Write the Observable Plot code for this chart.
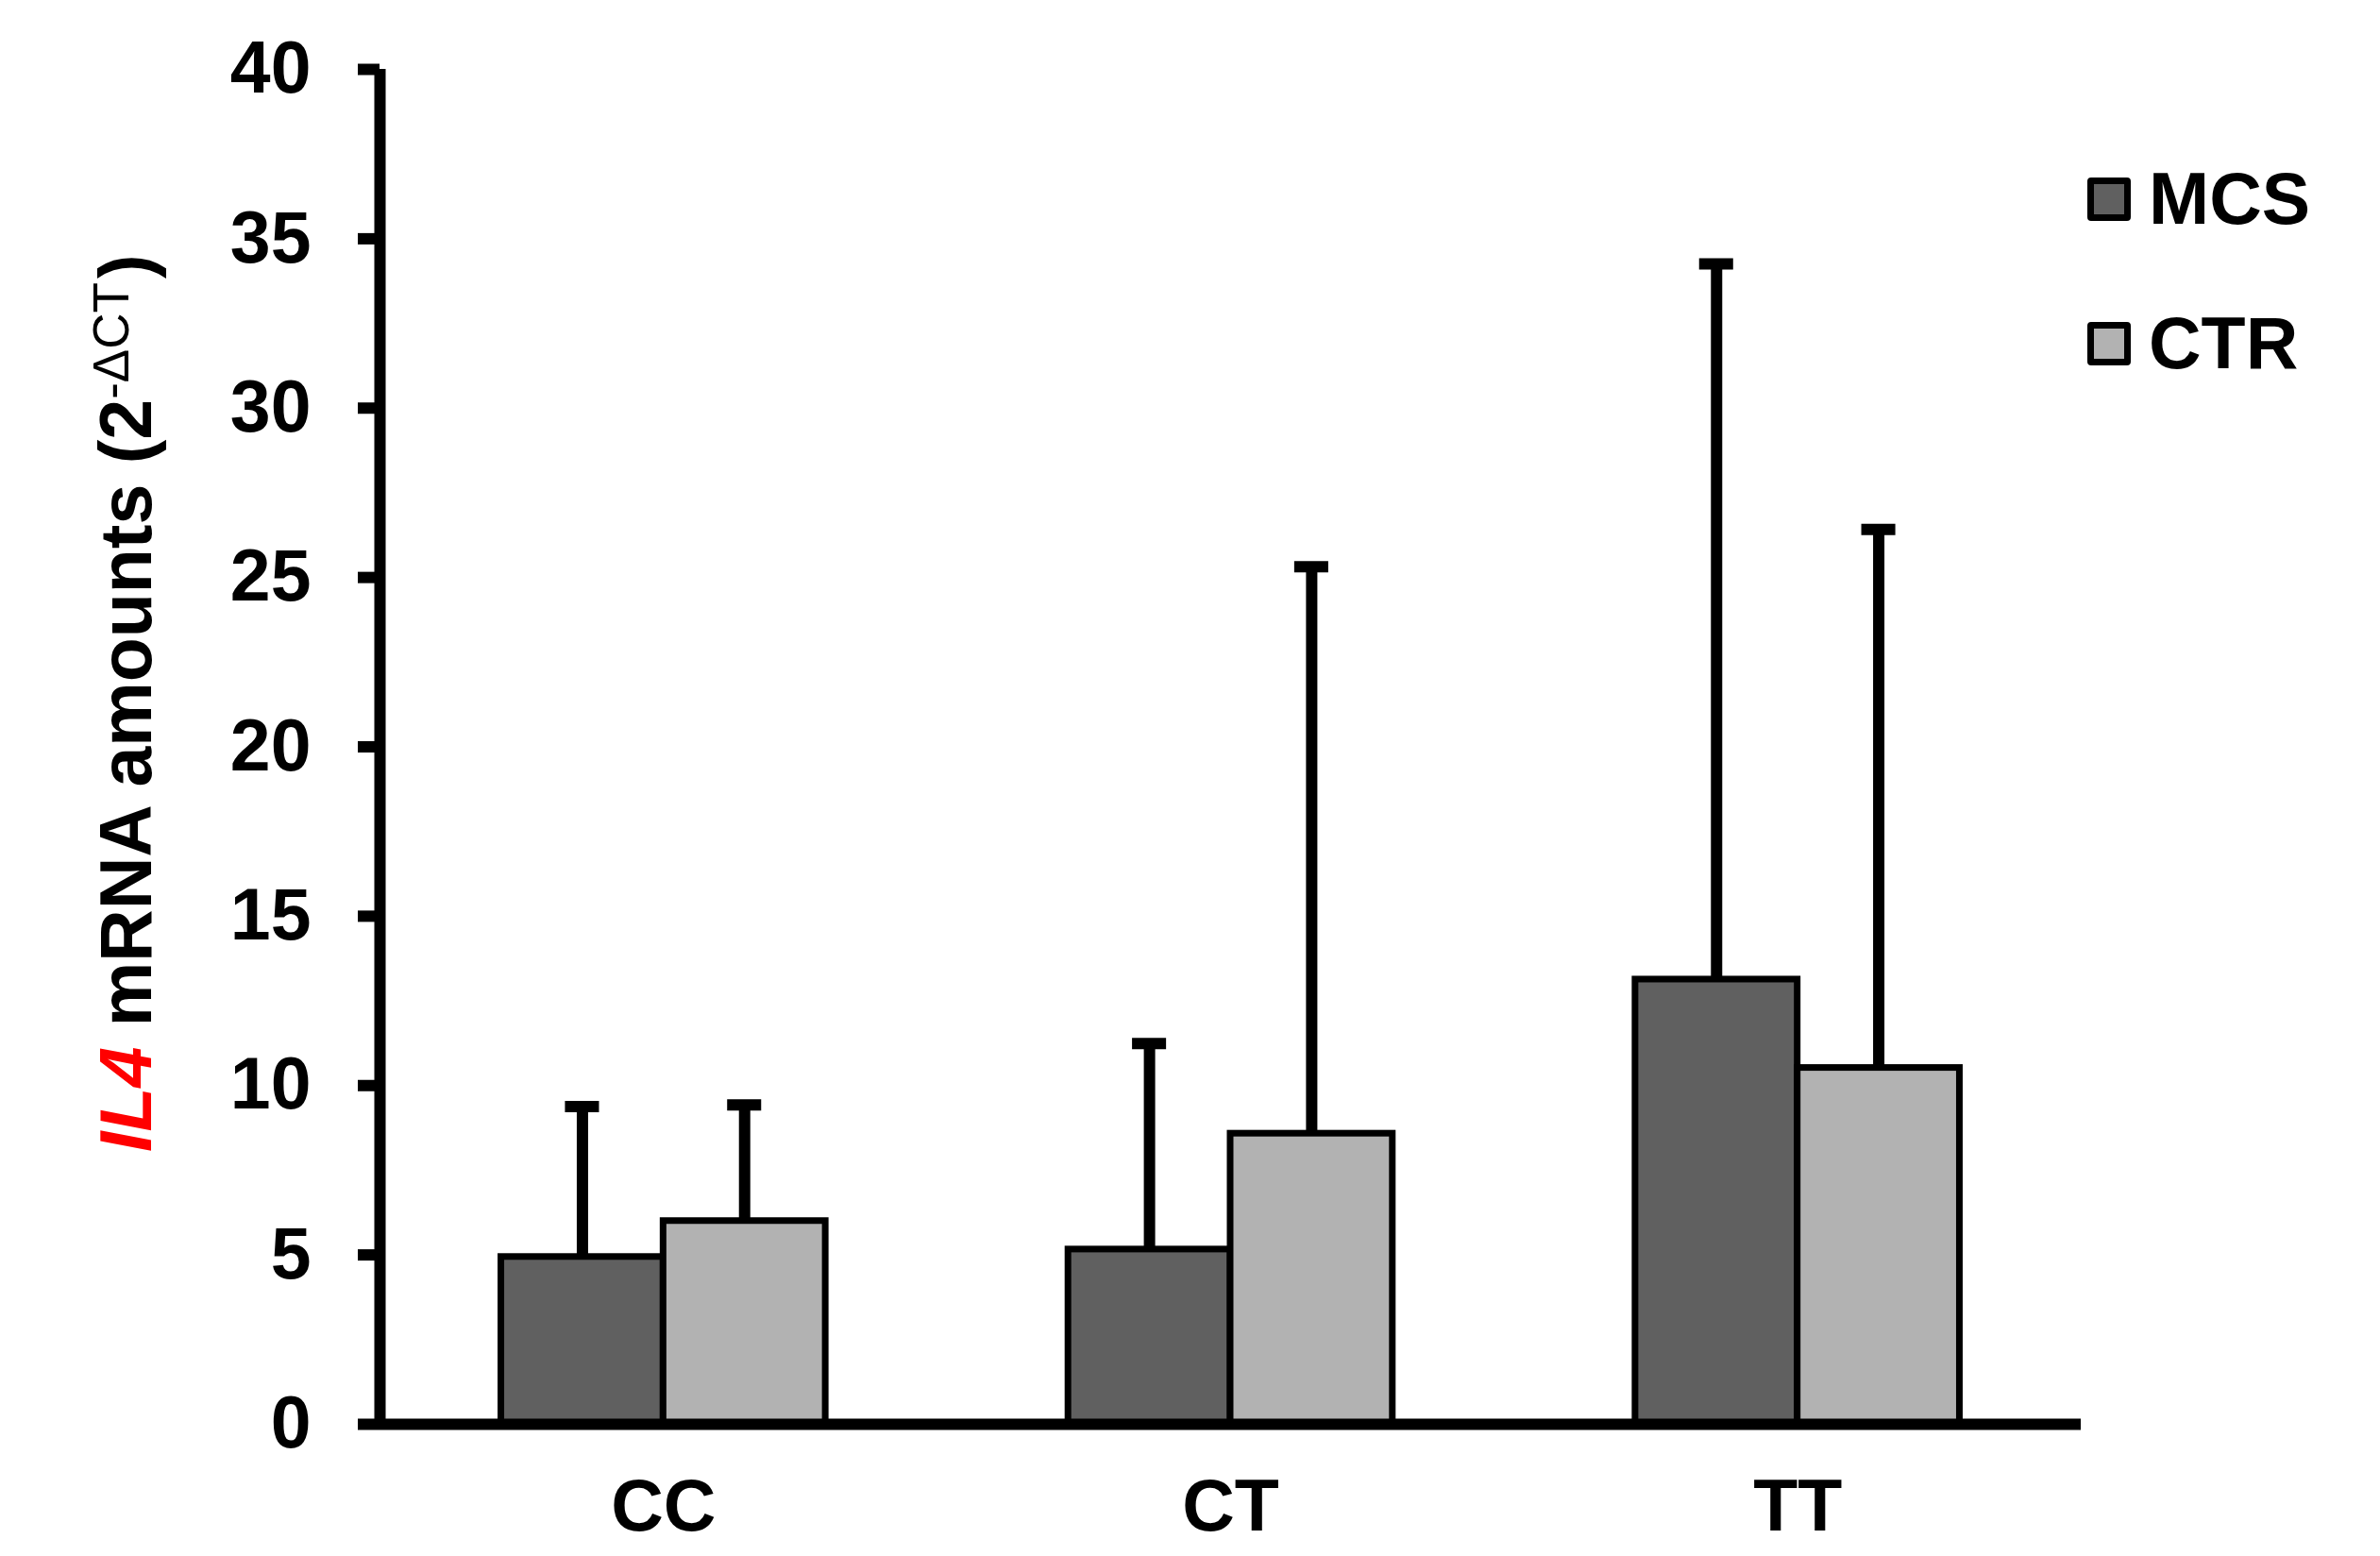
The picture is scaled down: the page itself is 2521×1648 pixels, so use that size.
<!DOCTYPE html>
<html>
<head>
<meta charset="utf-8">
<script src="https://cdn.jsdelivr.net/npm/d3@7"></script>
<script src="https://cdn.jsdelivr.net/npm/@observablehq/plot@0.6"></script>
<style>
  html, body { margin: 0; padding: 0; background: #fff; }
  #chart { position: relative; width: 2521px; height: 1648px; font-family: "Liberation Sans", Arial, sans-serif; font-weight: bold; }
  #legend { position: absolute; left: 2211px; top: 172px; }
  .item { display: flex; align-items: center; height: 77px; margin-bottom: 76px; font-size: 77px; line-height: 77px; }
  .sw { box-sizing: border-box; width: 46px; height: 46px; border: 7px solid #000; border-radius: 4px; margin-right: 19px; }
</style>
</head>
<body>
<div id="chart"></div>
<script>
// ---- data ----
const categories = ["CC", "CT", "TT"];
const series = ["MCS", "CTR"];
const mcsValues = [4.94, 5.16, 13.13];
const ctrValues = [6.0, 8.58, 10.52];
const mcsSD = [4.44, 6.08, 21.13];
const ctrSD = [3.43, 16.74, 15.9];
const yTicks = [0, 5, 10, 15, 20, 25, 30, 35, 40];
const colors = ["#606060", "#b2b2b2"];

// ---- layout constants (category units) ----
const barW = 0.286;
const capHalf = 0.03;

const valuesBySeries = [mcsValues, ctrValues];
const sdBySeries = [mcsSD, ctrSD];
const rows = [];
categories.forEach((cat, i) => {
  series.forEach((s, j) => {
    const value = valuesBySeries[j][i];
    const sd = sdBySeries[j][i];
    const x1 = j === 0 ? i - barW : i;
    const x2 = j === 0 ? i : i + barW;
    const xc = (x1 + x2) / 2;
    rows.push({cat, series: s, value, top: value + sd, x1, x2, xc, cx1: xc - capHalf, cx2: xc + capHalf});
  });
});

const font = "Liberation Sans, Arial, sans-serif";

const plot = Plot.plot({
  width: 2521,
  height: 1648,
  marginLeft: 402,
  marginRight: 317,
  marginTop: 73,
  marginBottom: 140,
  x: {domain: [-0.5, 2.5], axis: null},
  y: {domain: [0, 40], axis: null},
  color: {domain: series, range: colors},
  style: {fontFamily: font, fontWeight: "bold", fontSize: "77px", color: "#000", background: "#fff", overflow: "visible"},
  marks: [
    Plot.axisY({ticks: yTicks, tickSize: 23, tickPadding: 50, strokeWidth: 12, fontSize: 77, fontWeight: "bold", label: null, tickFormat: d => String(d)}),
    Plot.axisX({ticks: [0, 1, 2], tickFormat: i => categories[i], tickSize: 0, tickPadding: 58, fontSize: 77, fontWeight: "bold", label: null}),
    Plot.ruleX(rows, {x: "xc", y1: "value", y2: "top", stroke: "#000", strokeWidth: 12}),
    Plot.ruleY(rows, {y: "top", x1: "cx1", x2: "cx2", stroke: "#000", strokeWidth: 12}),
    Plot.rectY(rows, {x1: "x1", x2: "x2", y1: d => 0, y2: "value", fill: "series", stroke: "#000", strokeWidth: 7}),
    Plot.ruleX([-0.5], {y1: 0, y2: 40, stroke: "#000", strokeWidth: 12}),
    Plot.ruleY([0], {stroke: "#000", strokeWidth: 12})
  ]
});

const chart = document.getElementById("chart");
chart.appendChild(plot);

// y-axis title with rich text
const svg = d3.select(plot);
const title = svg.append("text")
  .attr("transform", "translate(160,1220) rotate(-90)")
  .attr("text-anchor", "start")
  .attr("font-family", font)
  .attr("font-weight", "bold")
  .attr("font-size", 77)
  .attr("fill", "#000");
title.append("tspan").attr("fill", "#ff0000").attr("font-style", "italic").text("IL4");
title.append("tspan").text(" mRNA amounts (2");
title.append("tspan").attr("font-size", 53).attr("dy", -24).attr("font-weight", "normal").text("-ΔCT");
title.append("tspan").attr("dy", 24).attr("dx", 4).text(")");

// legend
const legend = document.createElement("div");
legend.id = "legend";
series.forEach((s, j) => {
  const item = document.createElement("div");
  item.className = "item";
  const sw = document.createElement("span");
  sw.className = "sw";
  sw.style.background = colors[j];
  const label = document.createElement("span");
  label.textContent = s;
  item.appendChild(sw);
  item.appendChild(label);
  legend.appendChild(item);
});
chart.appendChild(legend);
</script>
</body>
</html>
